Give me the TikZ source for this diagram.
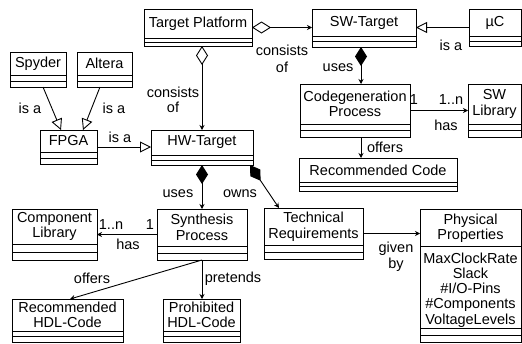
\documentclass[tikz,border=0pt]{standalone}
\usepackage{fontspec}
\setmainfont{Liberation Sans}
\usetikzlibrary{arrows.meta,calc}
\newcommand\umlbox[7]{% name, x1, y1, x2, y2, compartment, text
  \node[clsbox, minimum width={(#4-#2)*1pt}, minimum height={(#5-#3)*1pt}] (#1) at ({(#2+#4)/2},{(#3+#5)/2}) {};
  \draw[boxline] ([yshift={#6*1pt}]#1.south west) -- ([yshift={#6*1pt}]#1.south east);
  \draw[boxline] ([yshift={2*#6*1pt}]#1.south west) -- ([yshift={2*#6*1pt}]#1.south east);
  \node[clstext] (#1-t) at ({(#2+#4)/2},{(#3+#5-2*#6)/2}) {#7};
}
\begin{document}
\begin{tikzpicture}[x=1pt,y=-1pt,
  every node/.style={font=\fontsize{14.5}{15.5}\selectfont},
  clsbox/.style={draw, line width=0.9pt, inner sep=0pt, outer sep=0pt},
  boxline/.style={line width=0.8pt},
  clstext/.style={align=center, inner sep=0pt},
  lbl/.style={align=center, inner sep=0pt},
  conn/.style={line width=0.9pt},
  nav/.style={conn, -{Stealth[length=5pt,width=5pt]}},
  isa/.style={conn, -{Triangle[open,length=11pt,width=11pt]}},
  agg/.style={conn, {Diamond[open,length=19pt,width=12pt]}-{Stealth[length=5pt,width=5pt]}},
  comp/.style={conn, {Diamond[length=19pt,width=12pt]}-{Stealth[length=5pt,width=5pt]}}]
\useasboundingbox (0,0) rectangle (522,343);

\umlbox{tp}{144}{9}{252}{46}{4}{Target Platform}
\umlbox{swt}{312}{9}{416}{47}{5.5}{SW-Target}
\umlbox{uc}{469}{9}{521}{46}{5}{µC}
\umlbox{spy}{10}{52}{66}{87}{6}{Spyder}
\umlbox{alt}{77}{52}{132}{87}{6}{Altera}
\umlbox{fpga}{40}{130}{97}{164}{6}{FPGA}
\umlbox{hw}{151}{130}{253}{165}{5}{HW-Target}
\umlbox{cg}{300}{84}{410}{137}{6.5}{Codegeneration\\Process}
\umlbox{swl}{468}{84}{521}{137}{6.5}{SW\\Library}
\umlbox{rc}{299}{158}{457}{191}{4.5}{Recommended Code}
\umlbox{cl}{12}{209}{97}{260}{8}{Component\\Library}
\umlbox{sp}{157}{209}{247}{260}{7}{Synthesis\\Process}
\umlbox{th}{264}{208}{363}{259}{7}{Technical\\Requirements}
\umlbox{rh}{12}{299}{123}{342}{5.5}{Recommended\\HDL-Code}
\umlbox{ph}{163}{299}{240}{342}{5.5}{Prohibited\\HDL-Code}

% Physical Properties
\node[clsbox, minimum width=101pt, minimum height=133pt] (pp) at (470.5,275.5) {};
\draw[boxline] (pp.west |- 0,246) -- (pp.east |- 0,246);
\draw[boxline] (pp.west |- 0,328) -- (pp.east |- 0,328);
\draw[boxline] (pp.west |- 0,335) -- (pp.east |- 0,335);
\node[clstext] (pp-t) at (470.5,228) {Physical\\Properties};
\node[clstext, font=\fontsize{14.5}{15.2}\selectfont] (pp-a) at (470.5,290) {MaxClockRate\\Slack\\\#I/O-Pins\\\#Components\\VoltageLevels};

% connectors
\draw[agg] (tp.east) -- (tp.east -| swt.west);
\draw[isa] (uc.west) -- (uc.west -| swt.east);
\draw[agg] (tp.south -| hw.north) -- (hw.north);
\draw[isa] ([xshift=5pt]spy.south) -- ([xshift=-7.5pt]fpga.north);
\draw[isa] ([xshift=-4.5pt]alt.south) -- ([xshift=14.5pt]fpga.north);
\draw[isa] (fpga.east) -- (fpga.east -| hw.west);
\draw[comp] ([xshift=-3pt]swt.south) -- ([xshift=-3pt]swt.south |- cg.north);
\draw[nav] ([xshift=6pt]cg.south) -- ([xshift=6pt]cg.south |- rc.north);
\draw[nav] (cg.east) -- (cg.east -| swl.west);
\draw[comp] (hw.south) -- (hw.south |- sp.north);
\draw[comp] ([xshift=-3pt]hw.south east) -- ([xshift=15pt]th.north west);
\draw[nav] (sp.west) -- (sp.west -| cl.east);
\draw[nav] (sp.south) -- ([xshift=2.5pt]rh.north);
\draw[nav] (sp.south) -- (sp.south |- ph.north);
\draw[nav] (th.east) -- (th.east -| pp.west);

% labels
\node[lbl] (l1) at (282,58.5) {consists\\[1.5pt]of};
\node[lbl] (l2) at (451,45) {is a};
\node[lbl] (l3) at (173,100) {consists\\of};
\node[lbl] (l4) at (30,108) {is a};
\node[lbl] (l5) at (114,108) {is a};
\node[lbl] (l6) at (120,137) {is a};
\node[lbl] (l7) at (338,68) {uses};
\node[lbl] (l8) at (414,100) {1};
\node[lbl] (l9) at (451,100) {1..n};
\node[lbl] (l10) at (446,125) {has};
\node[lbl] (l11) at (385,147) {offers};
\node[lbl] (l12) at (178,194) {uses};
\node[lbl] (l13) at (240,194) {owns};
\node[lbl] (l14) at (111,225) {1..n};
\node[lbl] (l15) at (150,225) {1};
\node[lbl] (l16) at (128,244) {has};
\node[lbl] (l17) at (92,278) {offers};
\node[lbl] (l18) at (233,279) {pretends};
\node[lbl] (l19) at (396,256.5) {given\\by};
\end{tikzpicture}
\end{document}
